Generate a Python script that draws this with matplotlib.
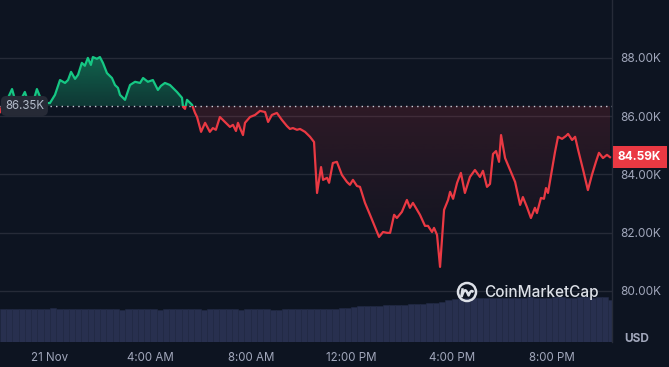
import numpy as np
import matplotlib
matplotlib.use("Agg")
import matplotlib.pyplot as plt
import matplotlib.colors as mcolors
from matplotlib.path import Path
from matplotlib.patches import PathPatch, Rectangle, Circle
import matplotlib.transforms as mtrans

plt.rcParams['font.family'] = ['Inter', 'DejaVu Sans']

# ---- data (hours relative to 21 Nov 00:00, price in K USD) ----
hours = [-1.99, -1.87, -1.67, -1.51, -1.39, -1.24, -1.12, -1.00, -0.88, -0.72, -0.60, -0.52, -0.36, -0.20,
         0.00, 0.20, 0.40, 0.60, 0.72, 0.84, 1.00, 1.12, 1.27, 1.39, 1.51, 1.63, 1.71, 1.87, 1.99,
         2.11, 2.27, 2.47, 2.59, 2.71, 2.79, 2.99, 3.19, 3.39, 3.59, 3.71, 3.90, 4.10, 4.30, 4.42,
         4.58, 4.78, 4.94, 5.06, 5.26, 5.30, 5.38, 5.46, 5.66, 5.78, 5.86, 6.02, 6.18, 6.37, 6.49,
         6.61, 6.77, 6.97, 7.17, 7.29, 7.41, 7.49, 7.57, 7.69, 7.77, 7.97, 8.17, 8.37, 8.57, 8.69,
         8.84, 9.04, 9.24, 9.44, 9.56, 9.68, 9.84, 9.96, 10.16, 10.36, 10.52, 10.64, 10.80, 10.88,
         11.04, 11.12, 11.27, 11.43, 11.63, 11.83, 11.95, 12.07, 12.23, 12.35, 12.55, 12.75, 12.95,
         13.11, 13.27, 13.43, 13.55, 13.71, 13.82, 14.02, 14.22, 14.34, 14.46, 14.74, 14.94, 15.06,
         15.22, 15.30, 15.42, 15.54, 15.70, 15.86, 15.94, 16.06, 16.22, 16.37, 16.53, 16.73, 16.93,
         17.13, 17.25, 17.41, 17.53, 17.65, 17.77, 17.89, 17.97, 18.13, 18.33, 18.53, 18.73, 18.84,
         19.00, 19.16, 19.32, 19.40, 19.56, 19.68, 19.76, 19.84, 20.12, 20.24, 20.40, 20.56, 20.64,
         20.80, 20.92, 21.04, 21.24, 21.43, 21.59, 21.75, 21.87, 22.03, 22.19, 22.31]
price = [86.14, 86.42, 86.63, 86.93, 86.56, 86.45, 86.63, 86.83, 86.52, 86.45, 86.69, 86.93, 86.59, 86.45,
         86.45, 86.73, 87.24, 87.14, 87.24, 87.52, 87.28, 87.42, 87.83, 87.73, 88.00, 87.76, 88.03, 87.97, 88.03,
         87.83, 87.48, 87.31, 87.07, 86.97, 86.73, 86.56, 87.07, 87.18, 87.14, 87.31, 87.18, 87.24, 86.90, 87.04,
         87.14, 87.07, 86.93, 86.83, 86.63, 86.32, 86.25, 86.56, 86.39, 86.11, 85.97, 85.46, 85.77, 85.46, 85.59,
         85.53, 85.97, 85.80, 85.63, 85.70, 85.49, 85.77, 85.59, 85.35, 85.77, 85.97, 86.04, 86.18, 86.14, 85.80,
         86.04, 86.11, 85.87, 85.66, 85.56, 85.59, 85.53, 85.56, 85.46, 85.29, 85.11, 83.36, 84.25, 83.81,
         83.88, 83.71, 84.39, 84.43, 83.98, 83.74, 83.64, 83.81, 83.60, 83.57, 83.02, 82.61, 82.19,
         81.85, 82.02, 81.99, 81.99, 82.61, 82.50, 82.71, 83.12, 82.85, 83.02, 82.61, 82.23, 82.23,
         82.02, 82.16, 81.92, 80.82, 82.78, 83.12, 83.40, 83.16, 83.71, 84.05, 83.36, 83.91, 84.15,
         83.91, 84.12, 83.57, 83.67, 84.70, 84.80, 84.43, 85.35, 84.56, 84.15, 83.74, 82.95, 83.22,
         82.88, 82.50, 82.85, 82.67, 83.19, 83.16, 83.53, 83.36, 84.77, 85.29, 85.22, 85.32, 85.39,
         85.18, 85.29, 84.84, 84.15, 83.46, 83.98, 84.43, 84.74, 84.56, 84.67, 84.59]

baseline = 86.35
last_price = 84.59

# volume bars every 15 minutes starting at -2h (relative units)
vol_start = -2.0
vol_step = 0.25
volume = [66, 67, 66, 66, 67, 66, 66, 67, 68, 67, 66, 66, 67, 66,
          67, 66, 66, 67, 66, 65, 66, 66, 67, 66, 66, 65, 66, 66,
          66, 67, 66, 66, 65, 66, 66, 67, 66, 66, 65, 66, 66, 66,
          66, 65, 65, 66, 66, 66, 67, 66, 66, 66, 67, 66,
          68, 69, 71, 72, 72, 73, 73, 74, 74, 75, 75, 76,
          76, 77, 78, 78, 80, 84, 86, 87, 88, 88,
          88, 88, 89, 89, 88, 89, 89, 89, 90, 89, 89, 89, 90, 90, 89, 89, 90, 90, 89, 90, 90, 84]

xtick_pos = [0, 4, 8, 12, 16, 20]
xtick_labels = ['21 Nov', '4:00 AM', '8:00 AM', '12:00 PM', '4:00 PM', '8:00 PM']
ytick_pos = [80, 82, 84, 86, 88]
ytick_labels = ['80.00K', '82.00K', '84.00K', '86.00K', '88.00K']

# ---- styling ----
BG = '#0d1421'
GREEN = '#16c784'
RED = '#ea3943'
GRID = '#262b38'
TXT = '#a1a7bb'

W, H = 669, 367
fig = plt.figure(figsize=(W / 100, H / 100), dpi=100, facecolor=BG)
rect = [0, 1 - 342 / H, 612 / W, 342 / H]
xmin, xmax = -1.99, 22.39
ymin, ymax = 78.24, 89.99

axv = fig.add_axes(rect, zorder=0)
axv.set_facecolor(BG)
axv.set_xlim(xmin, xmax)
axv.set_ylim(0, 684)
axv.axis('off')
vx = vol_start + vol_step * np.arange(len(volume)) + vol_step / 2
axv.bar(vx, volume, width=vol_step, color='#28304f', edgecolor='#222a45', linewidth=0.4)

ax = fig.add_axes(rect, zorder=1)
ax.set_facecolor('none')
ax.set_xlim(xmin, xmax)
ax.set_ylim(ymin, ymax)

x = np.array(hours)
y = np.array(price)

# grid
for v in ytick_pos:
    ax.axhline(v, color=GRID, lw=1, zorder=0.5)


def gradient_fill(where, color, y0, y1, a0, a1):
    poly = ax.fill_between(x, y, baseline, where=where, interpolate=True,
                           facecolor='none', edgecolor='none')
    paths = poly.get_paths()
    cpath = Path.make_compound_path(*paths)
    patch = PathPatch(cpath, transform=ax.transData, facecolor='none', edgecolor='none')
    ax.add_patch(patch)
    rgb = mcolors.to_rgb(color)
    z = np.zeros((200, 1, 4))
    z[:, :, :3] = rgb
    z[:, 0, 3] = np.linspace(a0, a1, 200)
    im = ax.imshow(z, aspect='auto', extent=[xmin, xmax, y0, y1], origin='lower', zorder=1,
                   interpolation='bilinear')
    im.set_clip_path(patch)


gradient_fill(y >= baseline, GREEN, baseline, 88.1, 0.2, 0.45)
gradient_fill(y <= baseline, RED, 80.8, baseline, 0.0, 0.15)
ax.set_xlim(xmin, xmax)
ax.set_ylim(ymin, ymax)

# lines
lg, = ax.plot(x, y, color=GREEN, lw=1.6, zorder=3, solid_joinstyle='round')
lg.set_clip_path(Rectangle((xmin, baseline), xmax - xmin, ymax - baseline, transform=ax.transData))
lr, = ax.plot(x, y, color=RED, lw=1.6, zorder=3, solid_joinstyle='round')
lr.set_clip_path(Rectangle((xmin, ymin), xmax - xmin, baseline - ymin, transform=ax.transData))

ax.axhline(baseline, color='#c8cdd8', lw=1.0, ls=(0, (1, 3)), zorder=2.5)

# spines / ticks
for s in ['left', 'top', 'bottom']:
    ax.spines[s].set_visible(False)
ax.spines['right'].set_color(GRID)
ax.spines['right'].set_linewidth(1)
ax.yaxis.tick_right()
ax.set_yticks(ytick_pos)
ax.set_yticklabels(ytick_labels)
ax.set_xticks(xtick_pos)
ax.set_xticklabels(xtick_labels)
ax.tick_params(axis='y', length=0, pad=6, labelsize=8.5, labelcolor=TXT)
ax.tick_params(axis='x', length=0, pad=7, labelsize=8.3, labelcolor=TXT)

blend = mtrans.blended_transform_factory(ax.transAxes, ax.transData)
ax.text(0.008, baseline, f'{baseline:.2f}K', transform=blend, ha='left', va='center',
        fontsize=8.3, color='#b4bccb', zorder=6,
        bbox=dict(boxstyle='round,pad=0.35,rounding_size=0.5', fc='#262a36', ec='none'))
ax.text(1.0 + 6 / 612, last_price, f'{last_price:.2f}K', transform=blend, ha='left', va='center',
        fontsize=8.5, color='white', fontweight='bold', zorder=6, clip_on=False,
        bbox=dict(boxstyle='square,pad=0.45', fc=RED, ec='none'))

fig.text(637 / W, 1 - 339 / H, 'USD', ha='center', va='center', fontsize=8.5,
         fontweight='bold', color=TXT)

# watermark
cx, cy = 467 / W, 1 - 292 / H
wm = fig.add_axes([cx - 12 / W, cy - 12 / H, 24 / W, 24 / H], zorder=5)
wm.set_xlim(-1.2, 1.2)
wm.set_ylim(-1.2, 1.2)
wm.axis('off')
wm.add_patch(Circle((0, 0), 0.9, fill=False, ec='#dde1e8', lw=1.8))
t = np.linspace(0, 1, 60)
wx = -0.5 + t * 1.05
wy = -0.35 + 0.55 * np.abs(np.sin(t * np.pi * 1.6)) * (1 - 0.2 * t)
wm.plot([-0.55, -0.45], [-0.4, 0.25], color='#dde1e8', lw=1.8)
wm.plot(wx, wy, color='#dde1e8', lw=1.8)
fig.text(484 / W, cy, 'CoinMarketCap', ha='left', va='center', fontsize=11,
         fontweight='medium', color='#dde1e8')

fig.savefig('out.png', dpi=100, facecolor=BG)
